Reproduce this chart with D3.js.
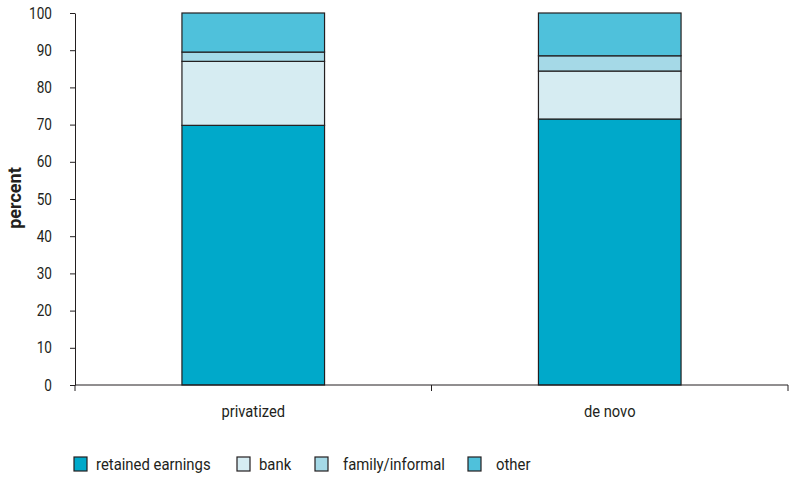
<!DOCTYPE html>
<html>
<head>
<meta charset="utf-8">
<script src="https://cdn.jsdelivr.net/npm/d3@7"></script>
<style>
  body { margin: 0; background: #fff; }
  svg text { font-family: "Roboto", sans-serif; fill: #231f20; }
</style>
</head>
<body>
<svg id="chart" width="789" height="477"></svg>
<script>
// data
const categories = ['privatized', 'de novo'];
const seriesNames = ['retained earnings', 'bank', 'family/informal', 'other'];
const retained = [69.8, 71.5];
const bank = [17.2, 12.9];
const family = [2.5, 4.1];
const other = [10.5, 11.5];
const yTicks = [0, 10, 20, 30, 40, 50, 60, 70, 80, 90, 100];
const colors = ['#00a9ca', '#d6ecf2', '#a5d9e7', '#4fc1db'];

const svg = d3.select('#chart');
const x0 = 75, x1 = 788, yBottom = 385, yTop = 13;

// narrow the text a bit, the original font is condensed
function condense(sel, s) {
    sel.each(function () {
        const t = d3.select(this);
        const tx = +t.attr('x') || 0;
        t.attr('x', tx / s).attr('transform', `scale(${s},1)`);
    });
}

const x = d3.scaleBand().domain(categories).range([x0, x1]).paddingInner(0).paddingOuter(0);
const y = d3.scaleLinear().domain([0, 100]).range([yBottom, yTop]);

// stacked rows
const rows = categories.map((c, i) => ({
    cat: c,
    'retained earnings': retained[i],
    'bank': bank[i],
    'family/informal': family[i],
    'other': other[i]
}));
const stack = d3.stack().keys(seriesNames)(rows);

const barW = x.bandwidth() * 0.4;

stack.forEach((layer, li) => {
    svg.append('g').selectAll('rect')
        .data(layer)
        .join('rect')
        .attr('x', d => x(d.data.cat) + (x.bandwidth() - barW) / 2)
        .attr('y', d => y(d[1]))
        .attr('width', barW)
        .attr('height', d => y(d[0]) - y(d[1]))
        .attr('fill', colors[li])
        .attr('stroke', '#231f20')
        .attr('stroke-width', 1.2);
});

// y axis
const yAxis = svg.append('g')
    .attr('transform', `translate(${x0},0)`)
    .call(d3.axisLeft(y).tickValues(yTicks).tickSize(5).tickPadding(18).tickSizeOuter(0));
yAxis.select('.domain').attr('stroke', '#231f20');
yAxis.selectAll('line').attr('stroke', '#231f20');
yAxis.selectAll('text').attr('font-size', 16).attr('fill', '#231f20').attr('font-family', 'Roboto');
condense(yAxis.selectAll('text'), 0.85);

// x axis, ticks on band edges
const xAxis = svg.append('g').attr('transform', `translate(0,${yBottom})`);
xAxis.append('line').attr('x1', x0).attr('x2', x1).attr('stroke', '#231f20');
const bounds = categories.map(c => x(c)).concat([x1]);
xAxis.selectAll('.bt').data(bounds).join('line')
    .attr('x1', d => d).attr('x2', d => d)
    .attr('y1', 0).attr('y2', 6)
    .attr('stroke', '#231f20');
const xl = xAxis.selectAll('text').data(categories).join('text')
    .attr('x', d => x(d) + x.bandwidth() / 2)
    .attr('y', 32)
    .attr('text-anchor', 'middle')
    .attr('font-size', 16)
    .text(d => d);
condense(xl, 0.92);

// y label
svg.append('text')
    .attr('transform', 'translate(21,198) rotate(-90)')
    .attr('text-anchor', 'middle')
    .attr('font-size', 18)
    .attr('font-weight', 'bold')
    .text('percent');

// legend
const legendX = [74, 237, 315, 468];
const lg = svg.append('g').selectAll('g')
    .data(seriesNames)
    .join('g')
    .attr('transform', (d, i) => `translate(${legendX[i]},457)`);
lg.append('rect')
    .attr('width', 13).attr('height', 14)
    .attr('fill', (d, i) => colors[i])
    .attr('stroke', '#231f20').attr('stroke-width', 1.2);
const lt = lg.append('text')
    .attr('x', (d, i) => i < 2 ? 22 : 28)
    .attr('y', 13)
    .attr('font-size', 16)
    .text(d => d);
condense(lt, 0.93);
</script>
</body>
</html>
